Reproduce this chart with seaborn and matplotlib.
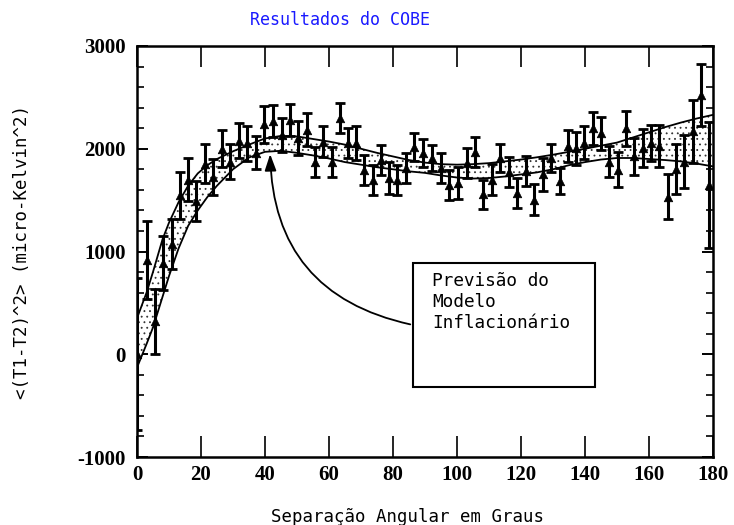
import numpy as np
import pandas as pd
import matplotlib
matplotlib.use("Agg")
import matplotlib.pyplot as plt
import seaborn as sns
from matplotlib.patches import Rectangle
from matplotlib.ticker import MultipleLocator

################################
# data
################################

angulo = [0.1, 3.0, 5.6, 8.2, 10.8, 13.4, 16.1, 18.6, 21.4, 23.9, 26.6, 29.1, 31.8,
          34.5, 37.2, 39.8, 42.6, 45.2, 47.8, 50.4, 53.0, 55.6, 58.2, 60.8, 63.4,
          66.0, 68.4, 71.0, 73.6, 76.2, 78.8, 81.3, 84.0, 86.7, 89.5, 92.1, 94.9,
          97.6, 100.4, 103.0, 105.6, 108.2, 110.8, 113.4, 116.3, 118.8, 121.6,
          124.2, 126.8, 129.3, 132.2, 134.8, 137.2, 139.8, 142.4, 145.0, 147.6,
          150.4, 152.8, 155.4, 158.0, 160.6, 163.2, 165.8, 168.4, 171.0, 173.8,
          176.3, 178.8]
correlacao = [0, 920, 320, 890, 1075, 1545, 1700, 1490, 1855, 1725, 2000, 1875, 2080,
              2055, 1960, 2240, 2270, 2135, 2280, 2105, 2185, 1875, 2070, 1875, 2300,
              2055, 2055, 1795, 1700, 1895, 1715, 1700, 1810, 2015, 1960, 1910, 1810,
              1650, 1665, 1860, 1965, 1555, 1700, 1910, 1770, 1570, 1780, 1505, 1750,
              1910, 1685, 2025, 2005, 2060, 2200, 2150, 1875, 1795, 2200, 1925, 2005,
              2055, 2025, 1535, 1805, 1875, 2170, 2520, 1645]
erro = [740, 380, 315, 265, 245, 225, 210, 195, 190, 180, 180, 170, 170,
        170, 160, 180, 160, 162, 154, 162, 162, 146, 154, 146, 146,
        146, 162, 146, 146, 146, 154, 146, 146, 138, 138, 130, 146,
        146, 154, 146, 146, 138, 154, 138, 146, 146, 146, 154, 162,
        138, 130, 154, 162, 162, 162, 162, 154, 170, 170, 178, 186,
        178, 202, 218, 243, 259, 307, 300, 615]

# model band (upper / lower edge of the inflationary prediction)
ang_sup = [0, 3, 5, 8, 10, 13, 16, 19, 22, 25, 30, 35, 40, 45, 50, 55, 60, 65, 70,
           75, 80, 85, 90, 95, 100, 105, 110, 115, 120, 125, 130, 135, 140, 145,
           150, 155, 160, 165, 170, 175, 180]
val_sup = [350, 600, 800, 1120, 1280, 1480, 1640, 1760, 1840, 1900, 1975, 2040, 2100,
           2125, 2120, 2095, 2070, 2040, 2000, 1960, 1925, 1890, 1865, 1850, 1845,
           1850, 1860, 1877, 1895, 1917, 1942, 1970, 2000, 2030, 2060, 2110, 2160,
           2210, 2255, 2295, 2330]
val_inf = [-130, 100, 260, 560, 760, 1030, 1250, 1400, 1530, 1640, 1800, 1915, 1970,
           1980, 1960, 1935, 1905, 1870, 1845, 1820, 1800, 1780, 1765, 1740, 1720,
           1710, 1715, 1730, 1750, 1770, 1800, 1840, 1870, 1895, 1910, 1910, 1900,
           1890, 1877, 1855, 1828]

pontos = pd.DataFrame({"ang": angulo, "corr": correlacao, "err": erro})
banda = pd.DataFrame({"ang": ang_sup, "sup": val_sup, "inf": val_inf})

################################
# plot
################################

sns.set_style("ticks")
plt.rcParams["axes.unicode_minus"] = False
plt.rcParams["hatch.linewidth"] = 0.6
plt.rcParams["axes.edgecolor"] = "black"
plt.rcParams["xtick.color"] = "black"
plt.rcParams["ytick.color"] = "black"
plt.rcParams["text.color"] = "black"
mono = "DejaVu Sans Mono"

fig = plt.figure(figsize=(7.34, 5.25), dpi=100)
ax = fig.add_axes([0.1866, 0.1295, 0.7848, 0.7829])

ax.fill_between(banda["ang"], banda["inf"], banda["sup"], facecolor="white",
                edgecolor="#333333", hatch="...", linewidth=0)
sns.lineplot(data=banda, x="ang", y="sup", color="black", lw=1.3, ax=ax)
sns.lineplot(data=banda, x="ang", y="inf", color="black", lw=1.3, ax=ax)

ax.errorbar(pontos["ang"], pontos["corr"], yerr=pontos["err"], fmt="none",
            ecolor="black", elinewidth=2.2, capsize=3.5, capthick=2, zorder=4)
sns.scatterplot(data=pontos, x="ang", y="corr", marker="^", s=38, color="black",
                edgecolor="black", zorder=5, ax=ax)

ax.set_xlim(0, 180)
ax.set_ylim(-1000, 3000)
ax.xaxis.set_major_locator(MultipleLocator(20))
ax.yaxis.set_major_locator(MultipleLocator(1000))
ax.yaxis.set_minor_locator(MultipleLocator(200))
ax.tick_params(axis="x", which="major", direction="in", length=15, width=1.2,
               top=True, bottom=True, pad=6, colors="black")
ax.tick_params(axis="y", which="major", direction="in", length=8, width=1.4,
               left=True, right=True, pad=8, colors="black")
ax.tick_params(axis="y", which="minor", direction="in", length=5, width=1.2,
               left=True, right=True, colors="black")
for lab in ax.get_xticklabels() + ax.get_yticklabels():
    lab.set_fontfamily("Liberation Serif")
    lab.set_fontweight("bold")
    lab.set_fontsize(15)
for sp in ax.spines.values():
    sp.set_linewidth(1.8)
    sp.set_color("black")
ax.set_xlabel("")
ax.set_ylabel("")

# annotation box with arrow
ax.add_patch(Rectangle((86.25, -319), 56.9, 1207, facecolor="white",
                       edgecolor="black", lw=1.5, zorder=6))
ax.text(92.2, 800, "Previsão do\nModelo\nInflacionário", family=mono, fontsize=12.8,
        va="top", ha="left", linespacing=1.2, zorder=7)
ax.annotate("", xy=(41.6, 1975), xytext=(86.25, 285),
            arrowprops=dict(arrowstyle="-|>,head_length=1.0,head_width=0.35",
                            color="black", lw=1.3,
                            connectionstyle="arc3,rad=-0.4"), zorder=6)

fig.text(0.463, 0.962, "Resultados do COBE", family=mono, fontsize=12,
         color="#1a1aff", ha="center", va="center")
fig.text(0.5545, 0.016, "Separação Angular em Graus", family=mono, fontsize=12.5,
         ha="center", va="center")
fig.text(0.03, 0.52, "<(T1-T2)^2> (micro-Kelvin^2)", family=mono, fontsize=12.5,
         rotation=90, ha="center", va="center")

fig.savefig("out.png", dpi=100)
